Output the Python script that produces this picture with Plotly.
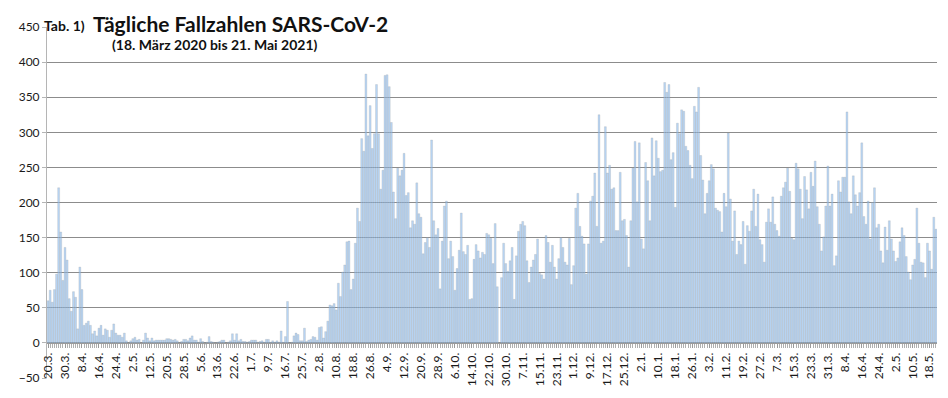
import plotly.graph_objects as go

tick_labels = ["20.3.", "30.3.", "8.4.", "16.4.", "24.4.", "2.5.", "12.5.", "20.5.", "28.5.", "5.6.",
               "13.6.", "22.6.", "1.7.", "9.7.", "16.7.", "25.7.", "2.8.", "10.8.", "18.8.", "26.8.",
               "4.9.", "12.9.", "20.9.", "28.9.", "6.10.", "14.10.", "22.10.", "30.10.", "7.11.", "15.11.",
               "23.11.", "1.12.", "9.12.", "17.12.", "25.12.", "2.1.", "10.1.", "18.1.", "26.1.", "3.2.",
               "11.2.", "19.2.", "27.2.", "7.3.", "15.3.", "23.3.", "31.3.", "8.4.", "16.4.", "24.4.",
               "2.5.", "10.5.", "18.5."]

cases_2020_spring = [60, 75, 58, 76, 98, 221, 158, 89,
                     136, 118, 63, 45, 73, 65, 20, 108,
                     76, 25, 28, 31, 25, 13, 17, 10,
                     21, 25, 11, 20, 18, 8, 18, 27,
                     14, 11, 11, 8, 14, 3, 0, 3,
                     6, 8, 4, 5, 0, 4, 14, 7,
                     3, 7, 3, 4, 4, 4, 4, 4,
                     6, 6, 5, 4, 5, 3, 0, 2]
cases_2020_summer = [5, 5, 3, 7, 10, 4, 4, 1,
                     6, 2, -2, 1, 9, 2, 1, 0,
                     1, 2, 4, 4, 0, 1, 3, 13,
                     4, 13, 3, 5, 2, 2, 1, 2,
                     4, 4, 4, 1, 2, 3, 1, 5,
                     5, 1, 3, 1, 3, 1, 17, 1,
                     9, 59, 0, 1, 10, 14, 12, 3,
                     3, 21, 2, 4, 5, 9, 8, 4,
                     22, 23, 7, 16, 31, 54, 53, 56,
                     47, 85, 66, 101, 111, 144, 145, 76]
cases_2020_autumn = [91, 142, 192, 173, 291, 273, 383, 295,
                     338, 277, 298, 368, 298, 219, 246, 381,
                     382, 365, 314, 215, 177, 249, 238, 246,
                     270, 210, 214, 164, 174, 169, 228, 184,
                     179, 127, 143, 150, 136, 289, 174, 154,
                     163, 77, 145, 195, 202, 120, 145, 123,
                     75, 106, 132, 185, 130, 126, 139, 62,
                     63, 119, 140, 131, 121, 129, 126, 156,
                     154, 149, 113, 170, 80, 0, 93, 142,
                     113, 102, 117, 136, 62, 124, 159, 169,
                     173, 167, 117, 86, 108, 118, 126, 148,
                     99, 97, 91, 153, 143, 115, 139, 108,
                     91, 120, 150, 136, 115, 111, 149, 83]
cases_2020_winter = [110, 192, 213, 166, 152, 141, 98, 141,
                     202, 209, 242, 166, 325, 142, 145, 308,
                     242, 253, 219, 221, 160, 160, 243, 174,
                     176, 153, 108, 174, 249, 287, 201, 285,
                     148, 134, 257, 231, 174, 292, 238, 288,
                     263, 244, 246, 371, 357, 368, 261, 271,
                     193, 313, 298, 332, 330, 280, 274, 253,
                     234, 337, 329, 364, 267, 232, 184, 213,
                     231, 254, 248, 192, 189, 187, 158, 213,
                     194, 299, 205, 145, 188, 126, 145, 140]
cases_2021_spring = [173, 112, 167, 159, 188, 219, 166, 212,
                     147, 140, 115, 172, 191, 172, 208, 169,
                     160, 152, 209, 221, 229, 249, 216, 149,
                     147, 256, 248, 219, 177, 237, 218, 191,
                     243, 223, 259, 194, 169, 131, 151, 195,
                     252, 195, 212, 110, 124, 231, 215, 236,
                     236, 329, 201, 184, 238, 211, 195, 214,
                     285, 180, 169, 202, 148, 200, 221, 164,
                     169, 131, 114, 165, 132, 174, 148, 131,
                     116, 121, 144, 164, 153, 123, 101, 90,
                     111, 119, 192, 142, 115, 114, 93, 142,
                     131, 105, 179, 162]

values = cases_2020_spring + cases_2020_summer + cases_2020_autumn + cases_2020_winter + cases_2021_spring
x = list(range(len(values)))
label_step = 8
tickvals = [i * label_step for i in range(len(tick_labels))]

FONT = "Lato"

fig = go.Figure()
fig.add_trace(go.Bar(
    x=x, y=values,
    marker=dict(color="rgba(140,188,238,0.62)",
                line=dict(color="rgba(150,150,150,0.45)", width=0.5)),
    hoverinfo="x+y",
))

fig.update_layout(
    width=940, height=390,
    margin=dict(l=27, r=11, t=17, b=20),
    paper_bgcolor="white", plot_bgcolor="white",
    bargap=0.1,
    showlegend=False,
    font=dict(family=FONT, color="#1a1a1a"),
    xaxis=dict(
        range=[-0.5, len(values) - 0.5],
        tickmode="array", tickvals=tickvals, ticktext=tick_labels,
        tickangle=-90, tickfont=dict(size=12, family=FONT, color="#1a1a1a"),
        showgrid=False, zeroline=False,
        showline=True, linecolor="#9a9a9a", linewidth=1,
        ticks="outside", ticklen=4, tickcolor="#9a9a9a",
        minor=dict(dtick=1, tick0=0, ticks="outside", ticklen=4, tickcolor="#b0b0b0", showgrid=False),
        anchor="free", position=0.1,
    ),
    yaxis=dict(
        range=[-50, 450], dtick=50, tick0=0,
        showgrid=True, gridcolor="#8c8c8c", gridwidth=1,
        zeroline=False,
        showline=True, linecolor="#b5b5b5", linewidth=1,
        ticks="outside", ticklen=4, tickcolor="#b5b5b5",
        tickfont=dict(size=12, family=FONT, color="#1a1a1a"),
        domain=[0, 1],
    ),
    annotations=[
        dict(text="<b>Tab. 1)</b>", xref="paper", yref="paper", x=-0.0056, y=1.004,
             xanchor="left", yanchor="middle", showarrow=False, font=dict(size=14, family=FONT, color="#111")),
        dict(text="<b>Tägliche Fallzahlen SARS-CoV-2</b>", xref="paper", yref="paper", x=0.0497, y=1.011,
             xanchor="left", yanchor="middle", showarrow=False, font=dict(size=21, family=FONT, color="#111")),
        dict(text="<b>(18. März 2020 bis 21. Mai 2021)</b>", xref="paper", yref="paper", x=0.071, y=0.949,
             xanchor="left", yanchor="middle", showarrow=False, font=dict(size=14, family=FONT, color="#111")),
    ],
)

fig.write_html("out.html")
